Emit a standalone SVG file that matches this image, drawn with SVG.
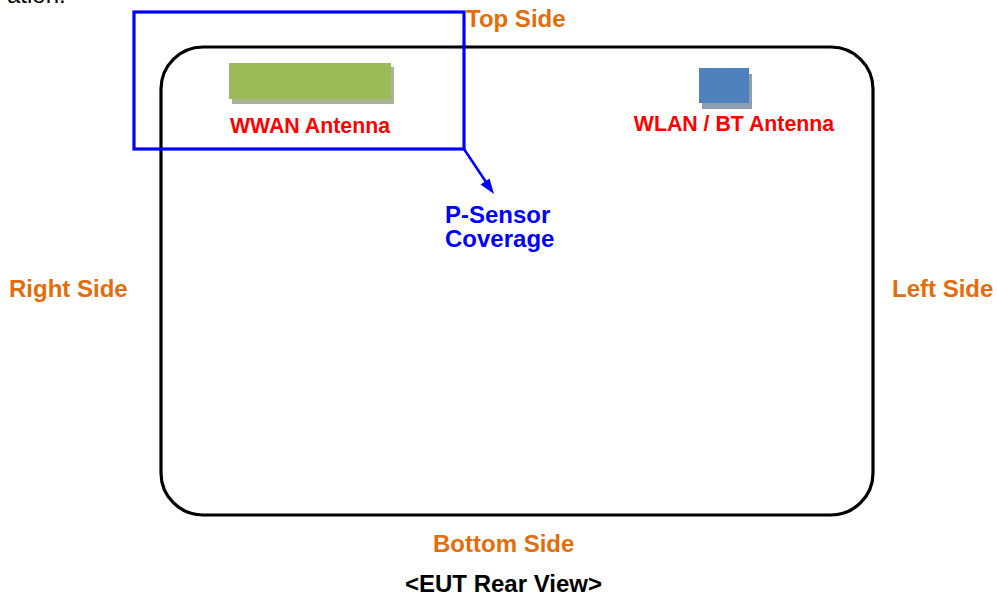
<svg xmlns="http://www.w3.org/2000/svg" width="997" height="600" viewBox="0 0 997 600">
  <defs>
    <style>
      text { font-family: "Liberation Sans", Arial, sans-serif; font-weight: bold; }
      .side { fill: #e46c0a; font-size: 24px; }
      .ant { fill: #ff0000; font-size: 21.3px; text-anchor: middle; }
      .sensor { fill: #0000ff; font-size: 24px; }
    </style>
  </defs>
  <rect width="997" height="600" fill="#ffffff"/>

  <text x="7" y="3" style="font-weight:normal;font-size:24px;fill:#000">ation.</text>

  <g id="eut-body">
    <rect x="161" y="47" width="712" height="468" rx="42" ry="42" fill="none" stroke="#000" stroke-width="3.2"/>
  </g>

  <g id="wwan-antenna">
    <rect x="232" y="67" width="162" height="37" fill="#a9b494"/>
    <rect x="229" y="63" width="162" height="36" fill="#9bbb59"/>
    <text class="ant" x="310" y="133">WWAN Antenna</text>
  </g>

  <g id="wlan-antenna">
    <rect x="702" y="74" width="50" height="35" fill="#8e9db0"/>
    <rect x="699" y="68" width="50" height="35" fill="#4f81bd"/>
    <text class="ant" x="734" y="131">WLAN / BT Antenna</text>
  </g>

  <g id="p-sensor-area">
    <rect x="134" y="12" width="330" height="137" fill="none" stroke="#0000ff" stroke-width="3.2"/>
  </g>

  <g id="connectors">
    <line x1="464" y1="149" x2="490" y2="188" stroke="#0000ff" stroke-width="2.5"/>
    <path d="M494,194 L480.5,184.5 L489.5,178.5 Z" fill="#0000ff"/>
  </g>

  <g id="p-sensor-label">
    <text class="sensor" x="445" y="223">P-Sensor</text>
    <text class="sensor" x="445" y="247">Coverage</text>
  </g>

  <g id="side-labels">
    <text class="side" x="466" y="27">Top Side</text>
    <text class="side" x="9" y="297">Right Side</text>
    <text class="side" x="892" y="297">Left Side</text>
    <text class="side" x="433" y="552">Bottom Side</text>
  </g>

  <g id="caption">
    <text x="405" y="592" style="font-size:24px;fill:#000">&lt;EUT Rear View&gt;</text>
  </g>
</svg>
